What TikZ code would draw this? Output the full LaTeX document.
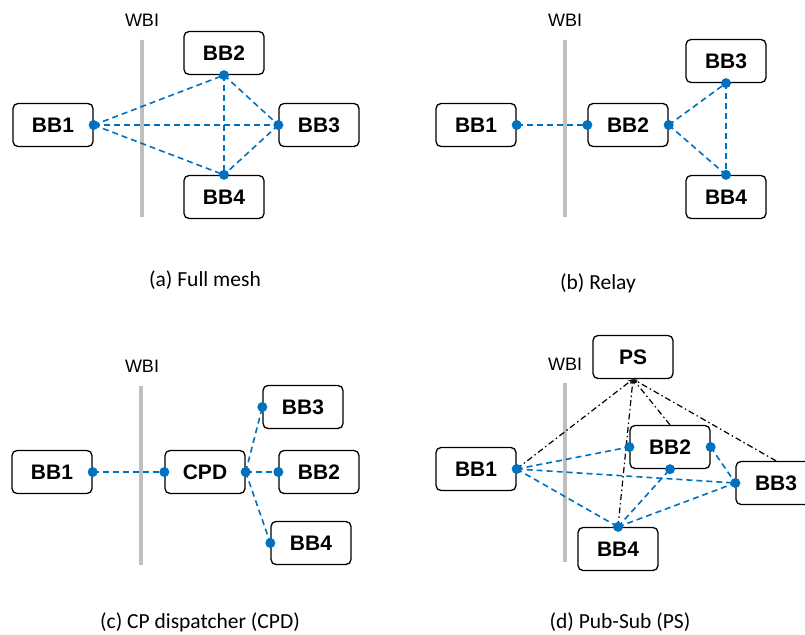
\documentclass[tikz,border=0pt]{standalone}
\usepackage{fontspec}
\setmainfont{Liberation Sans}
\newfontfamily\capfont{Carlito}
\usepackage{xcolor}
\usetikzlibrary{arrows.meta}

\definecolor{linkblue}{HTML}{0070C0}
\definecolor{wbigray}{HTML}{BFBFBF}

\tikzset{
  bbox/.style={draw=black, line width=1.3pt, rounded corners=5pt, fill=white,
    minimum width=80pt, minimum height=43pt, inner sep=0pt,
    font=\fontsize{21}{24}\selectfont\bfseries},
  link/.style={draw=linkblue, line width=1.6pt, dash pattern=on 6pt off 4pt},
  pslink/.style={draw=black, line width=1.2pt,
    dash pattern=on 6pt off 3pt on 1.5pt off 3pt,
    -{Stealth[length=5pt,width=4pt]}},
  wbibar/.style={draw=wbigray, line width=4pt},
  wbitext/.style={font=\fontsize{18}{20}\selectfont, inner sep=0pt},
  caption/.style={font=\capfont\fontsize{21.5}{24}\selectfont, inner sep=0pt},
  dot/.style={fill=linkblue}
}

\begin{document}
\begin{tikzpicture}[x=1pt, y=-1pt]
  \clip (0,0) rectangle (805,634);
  \useasboundingbox (0,0) rectangle (805,634);

  % (a) full mesh
  \node[wbitext] (wa) at (142,20) {WBI};
  \coordinate (wa1) at (142,40);
  \coordinate (wa2) at (142,217);
  \draw[wbibar] (wa1) -- (wa2);
  \node[bbox] (a1) at (53,125) {BB1};
  \node[bbox] (a2) at (224,53) {BB2};
  \node[bbox] (a3) at (319,125) {BB3};
  \node[bbox] (a4) at (224,197) {BB4};
  \draw[link] (a1.east) -- (a2.south);
  \draw[link] (a1.east) -- (a3.west);
  \draw[link] (a1.east) -- (a4.north);
  \draw[link] (a2.south) -- (a3.west);
  \draw[link] (a2.south) -- (a4.north);
  \draw[link] (a3.west) -- (a4.north);
  \foreach \p in {a1.east,a2.south,a3.west,a4.north}
    \fill[dot] (\p) circle (5pt);
  \node[caption] (ca) at (205,280) {(a) Full mesh};

  % (b) relay
  \node[wbitext] (wb) at (565,20) {WBI};
  \coordinate (wb1) at (565,40);
  \coordinate (wb2) at (565,217);
  \draw[wbibar] (wb1) -- (wb2);
  \node[bbox] (b1) at (476,125) {BB1};
  \node[bbox] (b2) at (628,125) {BB2};
  \node[bbox] (b3) at (726,61) {BB3};
  \node[bbox] (b4) at (726,197) {BB4};
  \draw[link] (b1.east) -- (b2.west);
  \draw[link] (b2.east) -- (b3.south);
  \draw[link] (b2.east) -- (b4.north);
  \draw[link] (b3.south) -- (b4.north);
  \foreach \p in {b1.east,b2.west,b2.east,b3.south,b4.north}
    \fill[dot] (\p) circle (5pt);
  \node[caption] (cb) at (598,283) {(b) Relay};

  % (c) CP dispatcher
  \node[wbitext] (wc) at (142,366) {WBI};
  \coordinate (wc1) at (141,386);
  \coordinate (wc2) at (141,565);
  \draw[wbibar] (wc1) -- (wc2);
  \node[bbox] (c1) at (52,472) {BB1};
  \node[bbox] (cpd) at (205,472) {CPD};
  \node[bbox] (c3) at (303,407) {BB3};
  \node[bbox] (c2) at (319,472) {BB2};
  \node[bbox] (c4) at (311,543) {BB4};
  \draw[link] (c1.east) -- (cpd.west);
  \draw[link] (cpd.east) -- (c3.west);
  \draw[link] (cpd.east) -- (c2.west);
  \draw[link] (cpd.east) -- (c4.west);
  \foreach \p in {c1.east,cpd.west,cpd.east,c3.west,c2.west,c4.west}
    \fill[dot] (\p) circle (5pt);
  \node[caption] (cc) at (200,622) {(c) CP dispatcher (CPD)};

  % (d) pub-sub
  \node[wbitext] (wd) at (565,364) {WBI};
  \coordinate (wd1) at (565,383);
  \coordinate (wd2) at (565,562);
  \draw[wbibar] (wd1) -- (wd2);
  \node[bbox] (ps) at (633,357) {PS};
  \node[bbox] (d1) at (476,469) {BB1};
  \node[bbox] (d2) at (670,447) {BB2};
  \node[bbox] (d3) at (776,483) {BB3};
  \node[bbox] (d4) at (618,549) {BB4};
  \draw[link] (d1.east) -- (d2.west);
  \draw[link] (d1.east) -- (d3.west);
  \draw[link] (d1.east) -- (d4.north);
  \draw[link] (d4.north) -- (d2.south);
  \draw[link] (d4.north) -- (d3.west);
  \draw[link] (d2.east) -- (d3.west);
  \draw[pslink] (d1.east) -- (ps.south);
  \draw[pslink] (d4.north) -- (ps.south);
  \draw[pslink] (d2.north) -- (ps.south);
  \draw[pslink] (d3.north) -- (ps.south);
  \foreach \p in {d1.east,d2.west,d2.east,d2.south,d3.west,d4.north}
    \fill[dot] (\p) circle (5pt);
  \node[caption] (cd) at (620,622) {(d) Pub-Sub (PS)};
\end{tikzpicture}
\end{document}
